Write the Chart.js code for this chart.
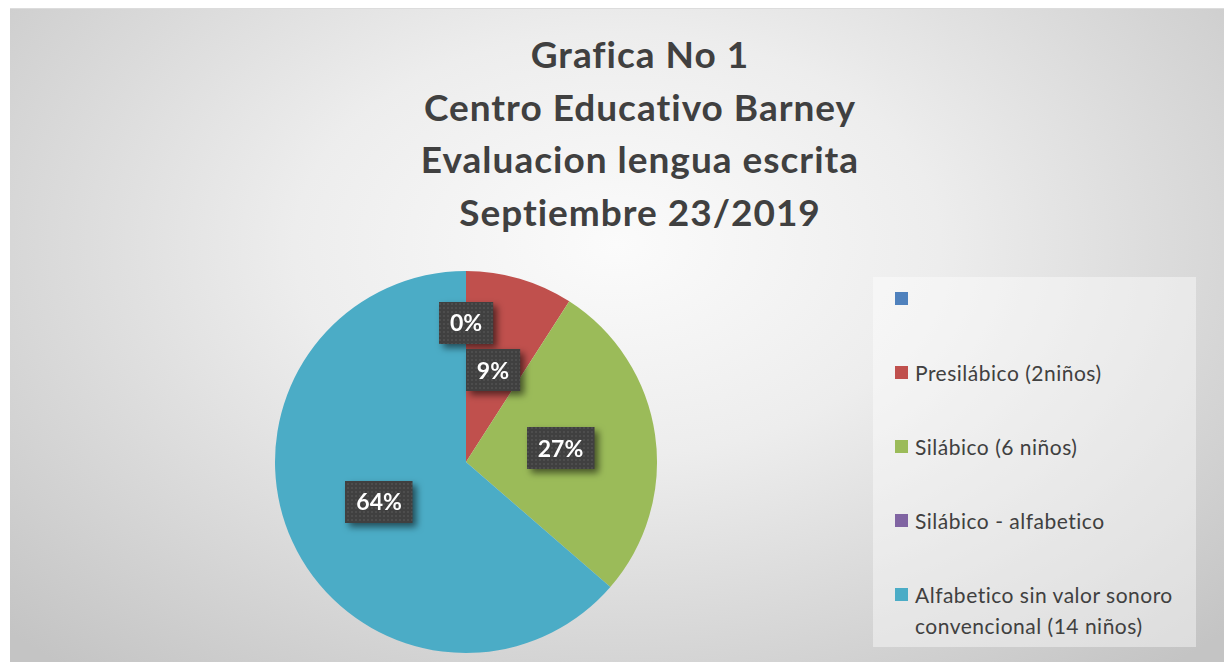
<!DOCTYPE html>
<html>
<head>
<meta charset="utf-8">
<script src="https://cdn.jsdelivr.net/npm/chart.js@4.4.1/dist/chart.umd.min.js"></script>
<style>
  body { margin: 0; width: 1224px; height: 662px; overflow: hidden; position: relative; background: #fff; font-family: Lato, "Open Sans", sans-serif; }
  #frame { position: absolute; left: 10px; top: 8px; width: 1214px; height: 654px;
    background: radial-gradient(ellipse 70% 85% at 50% 36%, #fbfbfb 0%, #ededed 38%, #c4c4c4 100%);
    border-top: 1px solid #dcdcdc; }
  #title { position: absolute; left: 340px; top: 28px; width: 600px; text-align: center; color: #404040;
    font-weight: bold; font-size: 37px; letter-spacing: 1px; line-height: 52.5px; }
  #legend { position: absolute; left: 873px; top: 277px; width: 323px; height: 370px; background: rgba(255,255,255,0.42); }
  .item { position: absolute; left: 22px; width: 290px; }
  .sw { position: absolute; left: 0; top: 0; width: 13px; height: 13px; }
  .lt { position: absolute; left: 20px; top: -9px; width: 268px; font-size: 21px; letter-spacing: 0.5px; line-height: 31px; color: #404040; }
  #pie { position: absolute; left: 266px; top: 262px; width: 400px; height: 400px; }
</style>
</head>
<body>
<div id="frame"></div>
<div id="title">Grafica No 1<br>Centro Educativo Barney<br>Evaluacion lengua escrita<br>Septiembre 23/2019</div>
<div id="legend"></div>
<div id="pie"><canvas id="pieChart" width="400" height="400"></canvas></div>
<script>
const categories = ['', 'Presilábico (2niños)', 'Silábico (6 niños)', 'Silábico - alfabetico', 'Alfabetico sin valor sonoro convencional (14 niños)'];
const values = [0, 2, 6, 0, 14];
const colors = ['#4F81BD', '#C0504D', '#9BBB59', '#8064A2', '#4BACC6'];

// legend (html)
const legend = document.getElementById('legend');
categories.forEach((c, i) => {
  const it = document.createElement('div');
  it.className = 'item';
  it.style.top = (15 + i * 74) + 'px';
  it.innerHTML = '<div class="sw" style="background:' + colors[i] + '"></div><div class="lt">' + c + '</div>';
  legend.appendChild(it);
});

// dotted fill for the data label boxes
const pat = document.createElement('canvas');
pat.width = 4; pat.height = 4;
const pctx = pat.getContext('2d');
pctx.fillStyle = '#404040';
pctx.fillRect(0, 0, 4, 4);
pctx.fillStyle = '#4d4d4d';
pctx.fillRect(1, 1, 2, 2);

const boxLabels = {
  id: 'boxLabels',
  afterDatasetsDraw(chart) {
    const ctx = chart.ctx;
    const meta = chart.getDatasetMeta(0);
    const total = values.reduce((a, b) => a + b, 0);
    const fill = ctx.createPattern(pat, 'repeat');
    meta.data.forEach((arc, i) => {
      if (i === 3) return; // this one is not shown in the original
      let pos;
      if (values[i] === 0) {
        const p = arc.getProps(['x', 'y', 'startAngle', 'outerRadius'], true);
        const r = p.outerRadius * 0.73;
        pos = { x: p.x + Math.cos(p.startAngle) * r, y: p.y + Math.sin(p.startAngle) * r };
      } else {
        pos = arc.tooltipPosition(true);
      }
      const txt = Math.round(values[i] / total * 100) + '%';
      ctx.save();
      ctx.font = 'bold 23px Lato, "Open Sans", sans-serif';
      const w = ctx.measureText(txt).width + 22;
      const h = 42;
      const x = Math.round(pos.x - w / 2), y = Math.round(pos.y - h / 2);
      ctx.shadowColor = 'rgba(0,0,0,0.55)';
      ctx.shadowBlur = 7;
      ctx.shadowOffsetX = 4;
      ctx.shadowOffsetY = 4;
      ctx.fillStyle = fill;
      ctx.fillRect(x, y, w, h);
      ctx.shadowColor = 'transparent';
      ctx.fillStyle = '#ffffff';
      ctx.textAlign = 'center';
      ctx.textBaseline = 'middle';
      ctx.fillText(txt, pos.x, pos.y + 1);
      ctx.restore();
    });
  }
};

new Chart(document.getElementById('pieChart'), {
  type: 'pie',
  data: {
    labels: categories,
    datasets: [{
      data: values,
      backgroundColor: colors,
      borderWidth: 0
    }]
  },
  options: {
    responsive: false,
    animation: false,
    layout: { padding: 9 },
    plugins: {
      legend: { display: false },
      tooltip: { enabled: false }
    }
  },
  plugins: [boxLabels]
});
</script>
</body>
</html>
